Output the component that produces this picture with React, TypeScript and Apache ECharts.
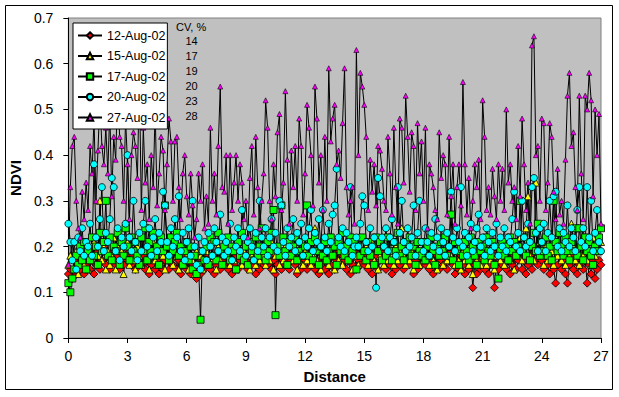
import React, { useEffect, useRef } from "react";
import * as echarts from "echarts";

const FONT = "'Liberation Sans', Arial, sans-serif";

const seriesNames = ["12-Aug-02", "15-Aug-02", "17-Aug-02", "20-Aug-02", "27-Aug-02"];
const cvHeader = "CV, %";
const cvValues = ["14", "17", "19", "20", "23", "28"];

// distance sampled every 0.1 from 0 to 27
const distance: number[] = Array.from({ length: 271 }, (_, i) => Math.round(i) / 10);

const aug12 = [
  0.14, 0.15, 0.13, 0.17, 0.14, 0.16, 0.15, 0.18, 0.14, 0.16,
  0.17, 0.15, 0.18, 0.14, 0.16, 0.19, 0.15, 0.17, 0.20, 0.16,
  0.18, 0.15, 0.17, 0.19, 0.16, 0.18, 0.15, 0.17, 0.16, 0.18,
  0.17, 0.19, 0.16, 0.18, 0.15, 0.17, 0.19, 0.16, 0.18, 0.15,
  0.17, 0.14, 0.16, 0.18, 0.15, 0.17, 0.14, 0.16, 0.15, 0.17,
  0.18, 0.15, 0.17, 0.16, 0.19, 0.15, 0.17, 0.14, 0.16, 0.18,
  0.15, 0.17, 0.14, 0.16, 0.15, 0.13, 0.16, 0.14, 0.17, 0.15,
  0.16, 0.18, 0.15, 0.17, 0.14, 0.16, 0.19, 0.15, 0.17, 0.16,
  0.18, 0.15, 0.17, 0.14, 0.16, 0.18, 0.15, 0.17, 0.19, 0.16,
  0.17, 0.15, 0.19, 0.16, 0.18, 0.14, 0.17, 0.15, 0.18, 0.16,
  0.19, 0.16, 0.18, 0.15, 0.17, 0.14, 0.16, 0.18, 0.15, 0.17,
  0.16, 0.18, 0.15, 0.17, 0.19, 0.16, 0.14, 0.17, 0.15, 0.18,
  0.17, 0.15, 0.18, 0.16, 0.19, 0.15, 0.17, 0.14, 0.16, 0.18,
  0.15, 0.17, 0.14, 0.16, 0.18, 0.15, 0.17, 0.19, 0.16, 0.18,
  0.17, 0.15, 0.18, 0.14, 0.16, 0.19, 0.15, 0.17, 0.16, 0.18,
  0.16, 0.18, 0.15, 0.17, 0.14, 0.16, 0.18, 0.15, 0.17, 0.19,
  0.17, 0.15, 0.18, 0.16, 0.14, 0.17, 0.15, 0.19, 0.16, 0.18,
  0.15, 0.17, 0.19, 0.16, 0.18, 0.14, 0.17, 0.15, 0.18, 0.16,
  0.19, 0.16, 0.18, 0.15, 0.17, 0.14, 0.16, 0.18, 0.15, 0.17,
  0.16, 0.18, 0.15, 0.17, 0.19, 0.16, 0.14, 0.17, 0.15, 0.18,
  0.16, 0.14, 0.17, 0.15, 0.18, 0.11, 0.16, 0.14, 0.17, 0.15,
  0.18, 0.15, 0.17, 0.14, 0.16, 0.19, 0.11, 0.16, 0.15, 0.17,
  0.16, 0.18, 0.15, 0.17, 0.14, 0.16, 0.18, 0.15, 0.17, 0.19,
  0.15, 0.17, 0.14, 0.16, 0.18, 0.15, 0.17, 0.19, 0.16, 0.18,
  0.17, 0.15, 0.18, 0.16, 0.14, 0.17, 0.15, 0.12, 0.16, 0.18,
  0.15, 0.17, 0.14, 0.12, 0.16, 0.18, 0.15, 0.17, 0.14, 0.16,
  0.18, 0.15, 0.17, 0.12, 0.16, 0.14, 0.17, 0.13, 0.15, 0.17,
  0.16,
];

const aug15 = [
  0.16, 0.18, 0.21, 0.15, 0.19, 0.14, 0.17, 0.20, 0.16, 0.18,
  0.15, 0.19, 0.17, 0.21, 0.16, 0.18, 0.30, 0.17, 0.20, 0.15,
  0.19, 0.16, 0.18, 0.22, 0.15, 0.20, 0.17, 0.19, 0.14, 0.18,
  0.21, 0.16, 0.19, 0.17, 0.15, 0.20, 0.18, 0.16, 0.22, 0.17,
  0.19, 0.15, 0.18, 0.21, 0.17, 0.16, 0.19, 0.22, 0.18, 0.15,
  0.20, 0.17, 0.19, 0.16, 0.21, 0.18, 0.15, 0.19, 0.17, 0.16,
  0.18, 0.15, 0.20, 0.17, 0.14, 0.19, 0.16, 0.18, 0.15, 0.17,
  0.19, 0.16, 0.21, 0.17, 0.18, 0.15, 0.20, 0.17, 0.19, 0.16,
  0.18, 0.20, 0.16, 0.19, 0.17, 0.15, 0.21, 0.18, 0.16, 0.19,
  0.17, 0.21, 0.15, 0.18, 0.20, 0.16, 0.19, 0.17, 0.22, 0.18,
  0.16, 0.19, 0.17, 0.21, 0.15, 0.18, 0.20, 0.16, 0.19, 0.17,
  0.20, 0.16, 0.18, 0.22, 0.17, 0.19, 0.15, 0.21, 0.18, 0.16,
  0.19, 0.17, 0.21, 0.16, 0.18, 0.24, 0.17, 0.19, 0.15, 0.20,
  0.17, 0.19, 0.16, 0.22, 0.18, 0.15, 0.20, 0.17, 0.19, 0.16,
  0.18, 0.21, 0.17, 0.19, 0.15, 0.20, 0.18, 0.16, 0.22, 0.19,
  0.17, 0.20, 0.16, 0.18, 0.21, 0.17, 0.19, 0.15, 0.18, 0.20,
  0.16, 0.19, 0.17, 0.22, 0.18, 0.16, 0.20, 0.17, 0.19, 0.24,
  0.18, 0.16, 0.20, 0.17, 0.19, 0.15, 0.21, 0.18, 0.16, 0.19,
  0.17, 0.21, 0.18, 0.16, 0.20, 0.17, 0.19, 0.15, 0.18, 0.21,
  0.16, 0.19, 0.17, 0.20, 0.18, 0.22, 0.16, 0.19, 0.17, 0.15,
  0.19, 0.17, 0.21, 0.16, 0.18, 0.14, 0.20, 0.17, 0.19, 0.16,
  0.18, 0.20, 0.16, 0.19, 0.17, 0.21, 0.15, 0.18, 0.20, 0.17,
  0.19, 0.16, 0.18, 0.21, 0.17, 0.19, 0.15, 0.20, 0.18, 0.22,
  0.17, 0.19, 0.24, 0.31, 0.18, 0.20, 0.17, 0.34, 0.19, 0.21,
  0.18, 0.16, 0.20, 0.17, 0.22, 0.19, 0.16, 0.21, 0.18, 0.20,
  0.17, 0.19, 0.16, 0.21, 0.18, 0.25, 0.20, 0.17, 0.19, 0.16,
  0.21, 0.18, 0.20, 0.17, 0.19, 0.16, 0.22, 0.18, 0.20, 0.19,
  0.21,
];

const aug17 = [
  0.12, 0.10, 0.13, 0.15, 0.18, 0.16, 0.20, 0.17, 0.21, 0.15,
  0.19, 0.17, 0.22, 0.18, 0.20, 0.16, 0.23, 0.19, 0.21, 0.30,
  0.18, 0.22, 0.17, 0.20, 0.19, 0.23, 0.16, 0.21, 0.18, 0.24,
  0.20, 0.17, 0.22, 0.19, 0.21, 0.18, 0.16, 0.22, 0.19, 0.24,
  0.17, 0.21, 0.19, 0.23, 0.18, 0.20, 0.16, 0.22, 0.19, 0.29,
  0.20, 0.17, 0.22, 0.19, 0.21, 0.23, 0.18, 0.20, 0.16, 0.19,
  0.21, 0.17, 0.20, 0.15, 0.18, 0.14, 0.16, 0.04, 0.19, 0.17,
  0.20, 0.16, 0.22, 0.18, 0.21, 0.17, 0.23, 0.19, 0.16, 0.20,
  0.18, 0.22, 0.17, 0.20, 0.19, 0.15, 0.21, 0.18, 0.23, 0.17,
  0.20, 0.16, 0.21, 0.19, 0.17, 0.22, 0.18, 0.20, 0.24, 0.19,
  0.17, 0.21, 0.19, 0.23, 0.28, 0.05, 0.20, 0.18, 0.29, 0.22,
  0.19, 0.16, 0.21, 0.18, 0.20, 0.22, 0.17, 0.19, 0.21, 0.18,
  0.20, 0.29, 0.18, 0.21, 0.17, 0.22, 0.19, 0.16, 0.20, 0.18,
  0.21, 0.17, 0.19, 0.22, 0.18, 0.20, 0.16, 0.21, 0.19, 0.23,
  0.18, 0.20, 0.17, 0.22, 0.19, 0.21, 0.15, 0.20, 0.18, 0.22,
  0.19, 0.17, 0.21, 0.18, 0.20, 0.16, 0.22, 0.19, 0.21, 0.17,
  0.20, 0.18, 0.22, 0.19, 0.17, 0.21, 0.19, 0.23, 0.18, 0.20,
  0.17, 0.21, 0.19, 0.22, 0.18, 0.20, 0.16, 0.21, 0.19, 0.18,
  0.21, 0.17, 0.20, 0.18, 0.22, 0.19, 0.16, 0.20, 0.18, 0.21,
  0.19, 0.22, 0.18, 0.20, 0.27, 0.17, 0.21, 0.19, 0.16, 0.20,
  0.18, 0.21, 0.19, 0.17, 0.22, 0.20, 0.18, 0.16, 0.21, 0.19,
  0.20, 0.17, 0.22, 0.19, 0.18, 0.21, 0.16, 0.20, 0.13, 0.19,
  0.21, 0.18, 0.20, 0.17, 0.22, 0.19, 0.21, 0.18, 0.20, 0.30,
  0.19, 0.22, 0.18, 0.21, 0.17, 0.20, 0.23, 0.19, 0.25, 0.18,
  0.21, 0.19, 0.22, 0.18, 0.20, 0.17, 0.30, 0.21, 0.19, 0.23,
  0.20, 0.18, 0.22, 0.19, 0.17, 0.21, 0.19, 0.24, 0.18, 0.24,
  0.20, 0.17, 0.22, 0.19, 0.21, 0.18, 0.16, 0.20, 0.19, 0.22,
  0.24,
];

const aug20 = [
  0.25, 0.21, 0.17, 0.21, 0.15, 0.22, 0.19, 0.24, 0.18, 0.21,
  0.20, 0.25, 0.18, 0.38, 0.22, 0.20, 0.26, 0.33, 0.19, 0.23,
  0.21, 0.26, 0.35, 0.33, 0.19, 0.24, 0.17, 0.22, 0.20, 0.25,
  0.40, 0.22, 0.19, 0.30, 0.21, 0.17, 0.23, 0.19, 0.25, 0.30,
  0.20, 0.24, 0.18, 0.22, 0.26, 0.19, 0.23, 0.21, 0.32, 0.29,
  0.21, 0.18, 0.24, 0.20, 0.26, 0.22, 0.31, 0.19, 0.23, 0.17,
  0.21, 0.24, 0.18, 0.30, 0.20, 0.16, 0.22, 0.15, 0.19, 0.21,
  0.17, 0.23, 0.20, 0.18, 0.24, 0.21, 0.19, 0.27, 0.22, 0.18,
  0.21, 0.19, 0.25, 0.17, 0.22, 0.20, 0.24, 0.19, 0.28, 0.22,
  0.18, 0.21, 0.24, 0.20, 0.17, 0.23, 0.19, 0.30, 0.22, 0.20,
  0.24, 0.18, 0.22, 0.26, 0.20, 0.23, 0.19, 0.30, 0.29, 0.21,
  0.18, 0.24, 0.20, 0.22, 0.26, 0.19, 0.23, 0.21, 0.25, 0.18,
  0.22, 0.20, 0.24, 0.28, 0.19, 0.23, 0.21, 0.26, 0.20, 0.28,
  0.22, 0.19, 0.25, 0.21, 0.27, 0.29, 0.37, 0.22, 0.20, 0.24,
  0.19, 0.23, 0.21, 0.33, 0.18, 0.20, 0.22, 0.20, 0.25, 0.31,
  0.29, 0.21, 0.19, 0.24, 0.20, 0.22, 0.11, 0.35, 0.31, 0.22,
  0.20, 0.24, 0.19, 0.22, 0.26, 0.21, 0.18, 0.33, 0.23, 0.30,
  0.21, 0.19, 0.24, 0.20, 0.22, 0.29, 0.18, 0.23, 0.30, 0.21,
  0.19, 0.24, 0.21, 0.18, 0.23, 0.20, 0.26, 0.22, 0.19, 0.24,
  0.21, 0.18, 0.23, 0.20, 0.32, 0.22, 0.19, 0.24, 0.21, 0.33,
  0.20, 0.23, 0.18, 0.22, 0.25, 0.19, 0.21, 0.24, 0.27, 0.20,
  0.22, 0.18, 0.24, 0.21, 0.19, 0.23, 0.20, 0.25, 0.18, 0.22,
  0.20, 0.24, 0.19, 0.22, 0.21, 0.26, 0.32, 0.20, 0.23, 0.19,
  0.30, 0.22, 0.20, 0.25, 0.21, 0.33, 0.35, 0.23, 0.19, 0.24,
  0.21, 0.25, 0.19, 0.23, 0.30, 0.22, 0.31, 0.32, 0.20, 0.24,
  0.19, 0.23, 0.21, 0.29, 0.20, 0.24, 0.22, 0.19, 0.28, 0.33,
  0.21, 0.24, 0.20, 0.33, 0.22, 0.30, 0.19, 0.23, 0.28, 0.21,
  0.19,
];

const aug27 = [
  0.16, 0.33, 0.42, 0.44, 0.30, 0.24, 0.22, 0.32, 0.26, 0.34,
  0.28, 0.42, 0.36, 0.48, 0.30, 0.41, 0.52, 0.42, 0.38, 0.46,
  0.36, 0.50, 0.31, 0.44, 0.39, 0.55, 0.44, 0.42, 0.30, 0.48,
  0.38, 0.26, 0.40, 0.45, 0.42, 0.35, 0.57, 0.28, 0.46, 0.34,
  0.38, 0.26, 0.40, 0.33, 0.50, 0.29, 0.36, 0.44, 0.41, 0.28,
  0.38, 0.48, 0.43, 0.30, 0.43, 0.44, 0.33, 0.26, 0.36, 0.40,
  0.31, 0.27, 0.36, 0.29, 0.22, 0.26, 0.36, 0.30, 0.38, 0.24,
  0.31, 0.25, 0.46, 0.30, 0.36, 0.27, 0.42, 0.55, 0.33, 0.32,
  0.40, 0.25, 0.40, 0.28, 0.34, 0.40, 0.30, 0.38, 0.34, 0.26,
  0.30, 0.22, 0.35, 0.42, 0.27, 0.44, 0.33, 0.24, 0.30, 0.36,
  0.52, 0.46, 0.30, 0.26, 0.38, 0.31, 0.45, 0.49, 0.28, 0.34,
  0.54, 0.39, 0.25, 0.41, 0.33, 0.42, 0.30, 0.48, 0.42, 0.27,
  0.36, 0.51, 0.46, 0.40, 0.29, 0.55, 0.48, 0.34, 0.40, 0.28,
  0.44, 0.30, 0.59, 0.43, 0.48, 0.51, 0.38, 0.41, 0.35, 0.47,
  0.59, 0.33, 0.27, 0.30, 0.33, 0.25, 0.63, 0.40, 0.58, 0.55,
  0.51, 0.44, 0.28, 0.39, 0.32, 0.38, 0.29, 0.42, 0.41, 0.37,
  0.30, 0.28, 0.44, 0.36, 0.27, 0.46, 0.33, 0.25, 0.48, 0.46,
  0.34, 0.53, 0.44, 0.32, 0.45, 0.42, 0.28, 0.47, 0.36, 0.43,
  0.30, 0.46, 0.24, 0.38, 0.36, 0.33, 0.28, 0.26, 0.45, 0.35,
  0.40, 0.38, 0.27, 0.44, 0.31, 0.38, 0.25, 0.33, 0.38, 0.29,
  0.56, 0.38, 0.27, 0.35, 0.24, 0.30, 0.38, 0.33, 0.39, 0.26,
  0.52, 0.44, 0.28, 0.33, 0.27, 0.37, 0.31, 0.26, 0.38, 0.30,
  0.37, 0.28, 0.50, 0.34, 0.38, 0.30, 0.33, 0.26, 0.42, 0.31,
  0.48, 0.38, 0.28, 0.34, 0.25, 0.64, 0.66, 0.40, 0.42, 0.30,
  0.48, 0.47, 0.28, 0.34, 0.47, 0.44, 0.32, 0.26, 0.37, 0.27,
  0.30, 0.25, 0.39, 0.53, 0.58, 0.42, 0.45, 0.33, 0.28, 0.53,
  0.36, 0.26, 0.53, 0.50, 0.58, 0.52, 0.31, 0.50, 0.40, 0.49,
  0.25,
];

const seriesValues = [aug12, aug15, aug17, aug20, aug27];
const seriesColors = ["#FF0000", "#FFFF00", "#00FF00", "#00FFFF", "#FF00FF"];
const seriesSymbols = ["diamond", "triangle", "rect", "circle", "triangle"];
const seriesSizes = [8, 7, 7, 7, 5];

export default function App() {
  const ref = useRef<HTMLDivElement>(null);

  useEffect(() => {
    const chart = echarts.init(ref.current!, null, { renderer: "svg" });
    const series = seriesNames.map((name, k) => ({
      name,
      type: "line",
      data: distance.map((d, i) => [d, seriesValues[k][i]]),
      symbol: seriesSymbols[k],
      symbolSize: seriesSizes[k],
      showSymbol: true,
      showAllSymbol: true,
      lineStyle: { color: "#000", width: 1 },
      itemStyle: { color: seriesColors[k], borderColor: "#000", borderWidth: k === 4 ? 0.6 : 0.8 },
      emphasis: { disabled: true },
      silent: true,
      z: 2,
    }));

    const cvTexts = [
      { text: cvHeader, x: 176, y: 27, align: "left" },
      ...cvValues.map((v, i) => ({ text: v, x: 191.5, y: 41.3 + i * 15, align: "center" })),
    ];

    chart.setOption({
      animation: false,
      textStyle: { fontFamily: FONT, color: "#000" },
      grid: {
        left: 67,
        top: 18,
        right: 18,
        bottom: 59,
        show: true,
        backgroundColor: "#C0C0C0",
        borderColor: "#808080",
        borderWidth: 1,
      },
      xAxis: {
        type: "value",
        min: 0,
        max: 27,
        interval: 3,
        name: "Distance",
        nameLocation: "middle",
        nameGap: 31,
        nameTextStyle: { fontFamily: FONT, fontSize: 15, fontWeight: "bold", color: "#000" },
        axisLine: { show: true, onZero: false, lineStyle: { color: "#000", width: 1 } },
        axisTick: { show: true, inside: false, length: 5, lineStyle: { color: "#000" } },
        axisLabel: { fontFamily: FONT, fontSize: 14, color: "#000", margin: 11 },
        splitLine: { show: false },
      },
      yAxis: {
        type: "value",
        min: 0,
        max: 0.7,
        interval: 0.1,
        name: "NDVI",
        nameLocation: "middle",
        nameGap: 30,
        nameRotate: 90,
        nameTextStyle: { fontFamily: FONT, fontSize: 15, fontWeight: "bold", color: "#000" },
        axisLine: { show: true, lineStyle: { color: "#000", width: 1 } },
        axisTick: { show: true, inside: false, length: 5, lineStyle: { color: "#000" } },
        axisLabel: { fontFamily: FONT, fontSize: 14, color: "#000", margin: 15 },
        splitLine: { show: false },
      },
      legend: {
        orient: "vertical",
        left: 73,
        top: 23,
        data: seriesNames,
        backgroundColor: "#FFFFFF",
        borderColor: "#000",
        borderWidth: 1,
        borderRadius: 0,
        padding: [5, 2, 4, 4],
        itemWidth: 24,
        itemHeight: 8,
        itemGap: 5.5,
        textStyle: { fontFamily: FONT, fontSize: 12.5, color: "#000", lineHeight: 15 },
        selectedMode: false,
        z: 10,
      },
      graphic: [
        {
          type: "rect",
          shape: { x: 5.5, y: 5.5, width: 607, height: 384 },
          style: { fill: "none", stroke: "#000", lineWidth: 1 },
          silent: true,
          z: -1,
        },
        ...cvTexts.map((t) => ({
          type: "text",
          x: t.x,
          y: t.y,
          z: 10,
          style: {
            text: t.text,
            fontFamily: FONT,
            fontSize: 11,
            fill: "#000",
            align: t.align,
            verticalAlign: "middle",
          },
          silent: true,
        })),
      ],
      series,
    });

    return () => chart.dispose();
  }, []);

  return (
    <div
      ref={ref}
      style={{ position: "absolute", left: 0, top: 0, width: 619, height: 397, background: "#fff" }}
    />
  );
}
